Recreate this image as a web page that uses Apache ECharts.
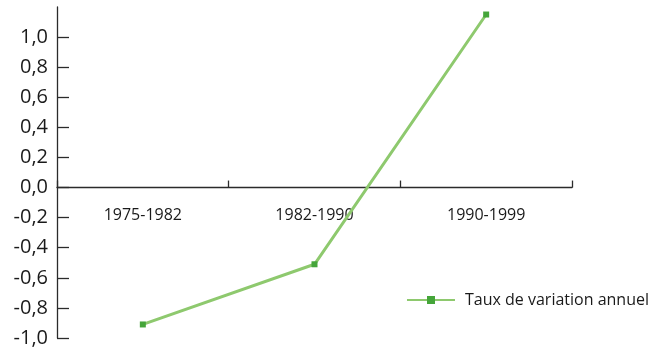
<!DOCTYPE html>
<html>
<head>
<meta charset="utf-8">
<script src="https://cdn.jsdelivr.net/npm/echarts@6/dist/echarts.min.js"></script>
<style>
  html, body { margin: 0; padding: 0; background: #fff; }
  #chart { width: 655px; height: 350px; }
</style>
</head>
<body>
<div id="chart"></div>
<script>
// Periods on the x axis
const periods = ['1975-1982', '1982-1990', '1990-1999'];
// Annual rate of change per period
const tauxAnnuel = [-0.91, -0.51, 1.15];
// Labelled y-axis values
const yTicks = [-1.0, -0.8, -0.6, -0.4, -0.2, 0.0, 0.2, 0.4, 0.6, 0.8, 1.0];

const fontFamily = '"Open Sans", "Noto Sans", sans-serif';
const axisColor = '#2b2b2b';

const yMin = -1.0, yMax = 1.2;
const gridTop = 7, gridBottom = 12, chartHeight = 350;
const plotHeight = chartHeight - gridTop - gridBottom;
// shift the category axis up so it sits on the zero line
const zeroOffset = -plotHeight * (0 - yMin) / (yMax - yMin);

const chart = echarts.init(document.getElementById('chart'), null, { renderer: 'canvas' });
chart.setOption({
  animation: false,
  backgroundColor: '#ffffff',
  grid: { left: 57, right: 83, top: gridTop, bottom: gridBottom, outerBoundsMode: 'none', containLabel: false },
  legend: {
    right: 1,
    top: 287,
    itemWidth: 48,
    itemHeight: 10,
    itemGap: 10,
    textStyle: { fontFamily, fontSize: 16, color: '#1a1a1a', padding: [0, 0, 0, 5] },
    data: ['Taux de variation annuel']
  },
  xAxis: {
    type: 'category',
    data: periods,
    boundaryGap: true,
    offset: zeroOffset,
    axisLine: { show: true, onZero: false, lineStyle: { color: axisColor, width: 1.3 } },
    axisTick: { show: true, inside: true, length: 7, lineStyle: { color: axisColor, width: 1.3 } },
    axisLabel: { margin: 20, fontFamily, fontSize: 16, color: '#1a1a1a' },
    splitLine: { show: false }
  },
  yAxis: {
    type: 'value',
    min: yMin,
    max: yMax,
    interval: 0.2,
    axisLine: { show: true, onZero: false, lineStyle: { color: axisColor, width: 1.3 } },
    axisTick: {
      show: true, inside: true, length: 12,
      customValues: yTicks,
      lineStyle: { color: axisColor, width: 1.3 }
    },
    axisLabel: {
      customValues: yTicks,
      margin: 9,
      fontFamily, fontSize: 20, color: '#1a1a1a',
      formatter: v => v.toFixed(1).replace('.', ',')
    },
    splitLine: { show: false }
  },
  series: [{
    name: 'Taux de variation annuel',
    type: 'line',
    data: tauxAnnuel,
    symbol: 'rect',
    symbolSize: 6,
    lineStyle: { color: '#8ec96e', width: 3 },
    itemStyle: { color: '#45a53a', borderWidth: 0 }
  }]
});
</script>
</body>
</html>
